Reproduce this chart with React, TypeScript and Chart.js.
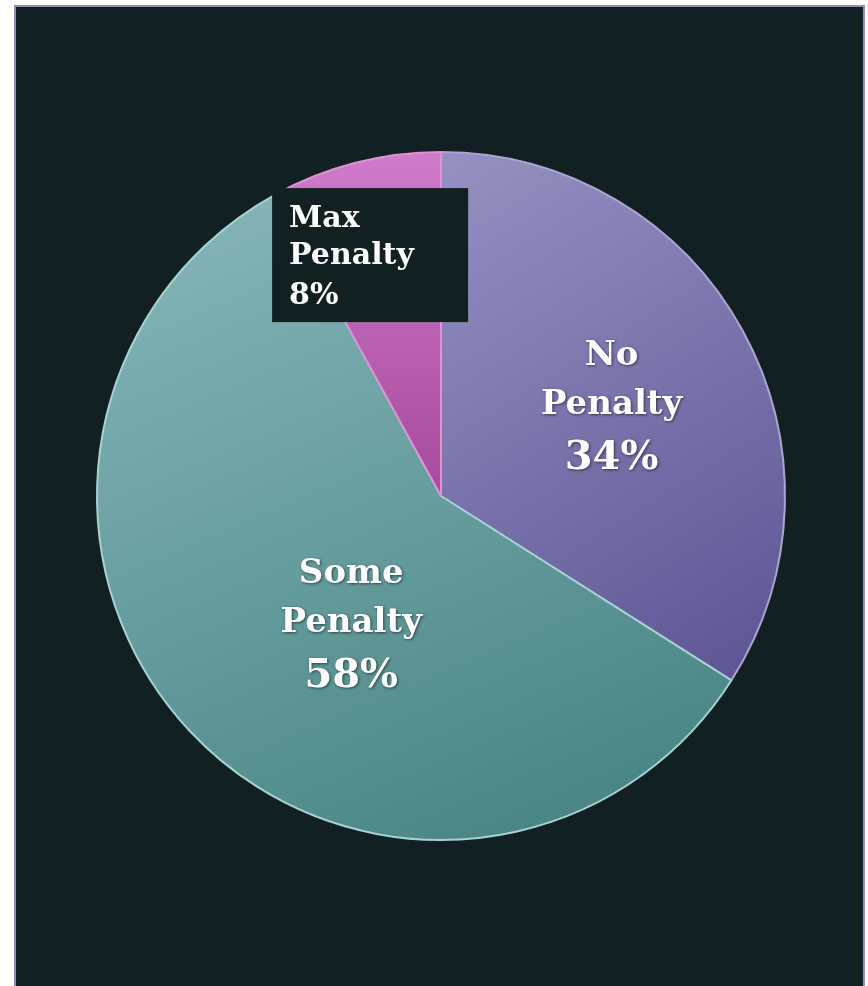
import React, { useEffect, useRef } from "react";
import { Chart, registerables } from "chart.js";

Chart.register(...registerables);

const categories = ["No Penalty", "Some Penalty", "Max Penalty"];
const nameLines = [["No", "Penalty"], ["Some", "Penalty"], ["Max", "Penalty"]];
const shares = [34, 58, 8];

const GRADS = [
  ["#9591c2", "#5a5292"],
  ["#84b4b7", "#4a8685"],
  ["#cf7ccb", "#a64a9c"],
];
const BORDERS = ["#aaa6d4", "#a6d2d2", "#dc94d4"];
// placement of label anchors: fraction of radius, angle tweak (deg)
const PLACE = [
  { r: 0.566, da: 0 },
  { r: 0.446, da: -11 },
  { r: 0.73, da: -2 },
];

const labelPlugin = {
  id: "sliceLabels",
  afterDatasetsDraw(chart: any) {
    const ctx = chart.ctx;
    const meta = chart.getDatasetMeta(0);
    meta.data.forEach((arc: any, i: number) => {
      const p = arc.getProps(["x", "y", "startAngle", "endAngle", "outerRadius"], true);
      const mid = (p.startAngle + p.endAngle) / 2 + (PLACE[i].da * Math.PI) / 180;
      const r = p.outerRadius * PLACE[i].r;
      const ax = p.x + r * Math.cos(mid);
      const ay = p.y + r * Math.sin(mid);
      const pct = shares[i] + "%";
      ctx.save();
      if (i === 2) {
        const bx = ax - 98;
        const by = ay - 67;
        ctx.fillStyle = "#132022";
        ctx.fillRect(bx, by, 196, 134);
        ctx.fillStyle = "#ffffff";
        ctx.font = 'bold 30px "DejaVu Serif"';
        ctx.textAlign = "left";
        ctx.textBaseline = "alphabetic";
        ctx.fillText(nameLines[i][0], bx + 17, by + 39);
        ctx.fillText(nameLines[i][1], bx + 17, by + 76);
        ctx.fillText(pct, bx + 17, by + 116);
      } else {
        ctx.fillStyle = "#ffffff";
        ctx.shadowColor = "rgba(0,0,0,0.55)";
        ctx.shadowBlur = 3;
        ctx.shadowOffsetX = 1;
        ctx.shadowOffsetY = 1;
        ctx.textAlign = "center";
        ctx.textBaseline = "alphabetic";
        ctx.font = 'bold 34px "DejaVu Serif"';
        ctx.fillText(nameLines[i][0], ax, ay - 37);
        ctx.fillText(nameLines[i][1], ax, ay + 12);
        ctx.font = 'bold 40px "DejaVu Serif"';
        ctx.fillText(pct, ax, ay + 67);
      }
      ctx.restore();
    });
  },
};

export default function App() {
  const ref = useRef<HTMLCanvasElement>(null);
  useEffect(() => {
    document.body.style.margin = "0";
    const canvas = ref.current!;
    const chart = new Chart(canvas, {
      type: "pie",
      data: {
        labels: categories,
        datasets: [
          {
            data: shares,
            backgroundColor: (c: any) => {
              const ch = c.chart;
              const a = ch.chartArea;
              if (!a) return GRADS[c.dataIndex][1];
              const i = c.dataIndex;
              let g;
              if (i === 0) g = ch.ctx.createLinearGradient(a.left + a.width * 0.5, a.top, a.right, a.top + a.height * 0.8);
              else if (i === 1) g = ch.ctx.createLinearGradient(a.left + a.width * 0.2, a.top + 40, a.left + a.width * 0.6, a.bottom);
              else g = ch.ctx.createLinearGradient(0, a.top, 0, a.top + a.height * 0.5);
              g.addColorStop(0, GRADS[i][0]);
              g.addColorStop(1, GRADS[i][1]);
              return g;
            },
            borderColor: BORDERS,
            borderWidth: 2,
            hoverOffset: 0,
            offset: 0,
          },
        ],
      },
      options: {
        animation: false,
        responsive: false,
        maintainAspectRatio: false,
        layout: { padding: { left: 96, right: 82, top: 151, bottom: 145 } },
        plugins: { legend: { display: false }, tooltip: { enabled: false } },
      },
      plugins: [labelPlugin],
    });
    return () => chart.destroy();
  }, []);

  return (
    <div style={{ position: "absolute", left: 0, top: 0, width: 868, height: 986, background: "#ffffff", overflow: "hidden" }}>
      <div
        style={{
          position: "absolute",
          left: 14,
          top: 5,
          width: 851,
          height: 1000,
          background: "#132022",
          border: "2px solid #8e8ec0",
          boxSizing: "border-box",
        }}
      />
      <canvas ref={ref} width={868} height={986} style={{ position: "absolute", left: 0, top: 0, width: 868, height: 986 }} />
    </div>
  );
}
